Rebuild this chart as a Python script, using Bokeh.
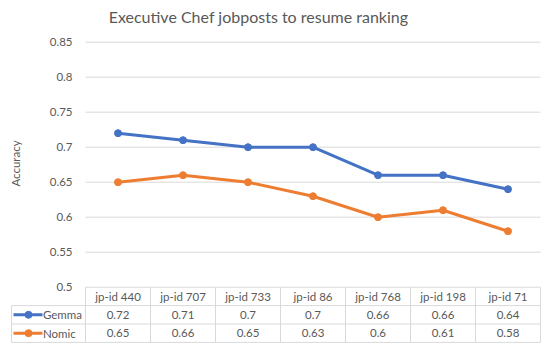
from bokeh.plotting import figure
from bokeh.models import Range1d
from bokeh.core.properties import value
from bokeh.embed import file_html
from bokeh.resources import INLINE
import math

# ---- data ----
categories = ["jp-id 440", "jp-id 707", "jp-id 733", "jp-id 86", "jp-id 768", "jp-id 198", "jp-id 71"]
gemma = [0.72, 0.71, 0.70, 0.70, 0.66, 0.66, 0.64]
nomic = [0.65, 0.66, 0.65, 0.63, 0.60, 0.61, 0.58]
series_names = ["Gemma", "Nomic"]
y_ticks = [0.5, 0.55, 0.6, 0.65, 0.7, 0.75, 0.8, 0.85]
title_text = "Executive Chef jobposts to resume ranking"
y_label = "Accuracy"

BLUE = "#4472C4"
ORANGE = "#ED7D31"
GRID = "#D9D9D9"
TXT = "#595959"
FONT = value("Lato")

W, H = 550, 347
XS, XE = -1.8077, 6.6538
YS, YE = 0.41386, 0.90957

p = figure(width=W, height=H, output_backend="svg", toolbar_location=None,
           x_range=Range1d(XS, XE), y_range=Range1d(YS, YE),
           min_border=0, min_border_left=0, min_border_right=0,
           min_border_top=0, min_border_bottom=0)
p.extra_y_ranges = {"table": Range1d(start=3.277, end=-15.582)}
p.axis.visible = False
p.grid.visible = False
p.outline_line_color = None
p.background_fill_color = "white"
p.border_fill_color = "white"

n = len(categories)
xs = list(range(n))

# horizontal gridlines (above 0.5, which is the table border)
gt = [t for t in y_ticks if t > 0.5]
p.segment(x0=[-0.5] * len(gt), x1=[n - 0.5] * len(gt), y0=gt, y1=gt,
          line_color=GRID, line_width=1)

# y tick labels
p.text(x=[-0.5] * len(y_ticks), y=y_ticks, text=[f"{t:g}" for t in y_ticks],
       x_offset=-13, text_align="right", text_baseline="middle",
       text_font=FONT, text_font_size="11.5px", text_color=TXT)

# y axis label
p.text(x=[-1.5769], y=[0.6767], text=[y_label], angle=math.pi / 2,
       text_align="center", text_baseline="middle",
       text_font=FONT, text_font_size="11.5px", text_color=TXT)

# title
p.text(x=[2.1615], y=[0.8874], text=[title_text],
       text_align="center", text_baseline="middle",
       text_font=FONT, text_font_size="16px", text_color=TXT)

# lines
for vals, col in [(gemma, BLUE), (nomic, ORANGE)]:
    p.line(xs, vals, line_color=col, line_width=3)
    p.scatter(xs, vals, size=7, fill_color=col, line_color=col)

# ---- data table ----
TR = "table"
left = -1.6385
p.segment(x0=[-0.5], x1=[n - 0.5], y0=[0], y1=[0], line_color=GRID, line_width=1, y_range_name=TR)
p.segment(x0=[left] * 3, x1=[n - 0.5] * 3, y0=[1, 2, 3], y1=[1, 2, 3],
          line_color=GRID, line_width=1, y_range_name=TR)
vx = [i - 0.5 for i in range(n + 1)]
p.segment(x0=vx, x1=vx, y0=[0] * len(vx), y1=[3] * len(vx),
          line_color=GRID, line_width=1, y_range_name=TR)
p.segment(x0=[left], x1=[left], y0=[1], y1=[3], line_color=GRID, line_width=1, y_range_name=TR)

p.text(x=xs, y=[0.5] * n, text=categories, text_align="center", text_baseline="middle",
       text_font=FONT, text_font_size="11.5px", text_color=TXT, y_range_name=TR)
for r, vals in enumerate([gemma, nomic], start=1):
    p.text(x=xs, y=[r + 0.5] * n, text=[f"{v:g}" for v in vals], text_align="center",
           text_baseline="middle", text_font=FONT, text_font_size="11.5px",
           text_color=TXT, y_range_name=TR)

for r, (name, col) in enumerate(zip(series_names, [BLUE, ORANGE]), start=1):
    p.segment(x0=[-1.6077], x1=[-1.1615], y0=[r + 0.5], y1=[r + 0.5],
              line_color=col, line_width=3, y_range_name=TR)
    p.scatter([-1.3769], [r + 0.5], size=7, fill_color=col, line_color=col, y_range_name=TR)
    p.text(x=[-1.155], y=[r + 0.5], text=[name], text_align="left", text_baseline="middle",
           text_font=FONT, text_font_size="11.5px", text_color=TXT, y_range_name=TR)

open("out.html", "w").write(file_html(p, INLINE))
